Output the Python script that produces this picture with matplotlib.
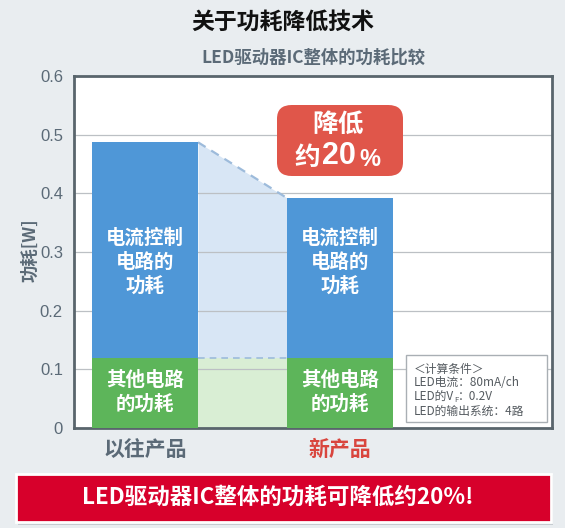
import matplotlib
matplotlib.use("Agg")
import matplotlib.pyplot as plt
from matplotlib.patches import Rectangle, FancyBboxPatch

plt.rcParams['font.family'] = ['Noto Sans CJK SC', 'DejaVu Sans']

# ---- data ----
categories = ["以往产品", "新产品"]
other_power = [0.12, 0.12]          # 其他电路的功耗
total_power = [0.487, 0.392]        # 整体功耗
yticks = [0, 0.1, 0.2, 0.3, 0.4, 0.5, 0.6]
ytick_labels = ["0", "0.1", "0.2", "0.3", "0.4", "0.5", "0.6"]
current_label = "电流控制\n电路的\n功耗"
other_label = "其他电路\n的功耗"
title = "关于功耗降低技术"
subtitle = "LED驱动器IC整体的功耗比较"
ylabel = "功耗[W]"
badge_line1 = "降低"
badge_line2a = "约"
badge_line2b = "20"
badge_line2c = "%"
banner = "LED驱动器IC整体的功耗可降低约20%!"
cond_lines = [["＜计算条件＞"], ["LED电流：80mA/ch"], ["LED的V", "F", "：0.2V"], ["LED的输出系统：4路"]]

BG = "#e9edf0"
BLUE = "#4f97d7"
GREEN = "#5db55a"
LBLUE = "#d8e6f5"
LGREEN = "#d9eed4"
GRAY = "#5b6a77"
SPINE = "#59656c"

fig = plt.figure(figsize=(5.65, 5.28), dpi=100, facecolor=BG)
ax = fig.add_axes([74/565, 1-428/528, 478/565, 352/528])
ax.set_facecolor("white")

x = [0, 1]
w = 0.544
ax.set_xlim(-0.364, 2.087)
ax.set_ylim(0, 0.6)

current_power = [t - o for t, o in zip(total_power, other_power)]
ax.bar(x, other_power, width=w, color=GREEN, zorder=3)
ax.bar(x, current_power, width=w, bottom=other_power, color=BLUE, zorder=3)

# connecting shaded region
xa, xb = x[0] + w/2, x[1] - w/2
ax.fill_between([xa, xb], [0, 0], other_power, color=LGREEN, zorder=0.5, lw=0)
ax.fill_between([xa, xb], other_power, total_power, color=LBLUE, zorder=0.5, lw=0)
ax.plot([xa, xb], total_power, ls=(0, (4, 3)), color="#9dbbdb", lw=1.6, zorder=2)
ax.plot([xa, xb], other_power, ls=(0, (4, 3)), color="#9dbbdb", lw=1.2, zorder=2)

# grid
for yv in yticks[1:-1]:
    ax.axhline(yv, color="#bcc0c4", lw=0.9, zorder=1)

ax.set_yticks(yticks)
ax.set_yticklabels(ytick_labels, family=['Liberation Sans', 'DejaVu Sans'], fontsize=12, color=GRAY)
ax.tick_params(axis='y', length=0, pad=8)
ax.set_xticks([])
for s in ax.spines.values():
    s.set_color(SPINE)
    s.set_linewidth(2.0)

# bar labels
for xi, o, t in zip(x, other_power, total_power):
    ax.text(xi, 0.283, current_label, ha='center', va='center', color='white',
            fontsize=14, fontweight='bold', linespacing=1.3, zorder=4)
    ax.text(xi, o / 2, other_label, ha='center', va='center', color='white',
            fontsize=14, fontweight='bold', linespacing=1.3, zorder=4)

# category labels
cat_colors = [GRAY, "#d9463e"]
for xi, c, col in zip(x, categories, cat_colors):
    ax.text(xi, -0.036, c, ha='center', va='center', color=col, fontsize=15,
            fontweight='bold', clip_on=False)

# y label
fig.text(30/565, 1-250/528, ylabel, rotation=90, ha='center', va='center',
         color=GRAY, fontsize=12.5, fontweight='bold')

# titles
fig.text(283/565, 1-22/528, title, ha='center', va='center', color="#111111",
         fontsize=16.5, fontweight='bold')
fig.text(313/565, 1-58/528, subtitle, ha='center', va='center', color=GRAY,
         fontsize=12.5, fontweight='bold')

# badge
badge = FancyBboxPatch((277/565, 1-176/528), 126/565, 71/528,
                       boxstyle="round,pad=0,rounding_size=0.026",
                       transform=fig.transFigure, facecolor="#e0564a",
                       edgecolor='none', zorder=5)
fig.patches.append(badge)
fig.text(338/565, 1-124/528, badge_line1, ha='center', va='center', color='white',
         fontsize=18.5, fontweight='bold', zorder=6)
fig.text(307/565, 1-157/528, badge_line2a, ha='center', va='center', color='white',
         fontsize=18.5, fontweight='bold', zorder=6)
fig.text(339/565, 1-156/528, badge_line2b, ha='center', va='center', color='white',
         fontsize=22, fontweight='bold', zorder=6, family=['Liberation Sans'])
fig.text(370/565, 1-159/528, badge_line2c, ha='center', va='center', color='white',
         fontsize=17, fontweight='bold', zorder=6, family=['Liberation Sans'])

# condition box
cbox = Rectangle((406/565, 1-422/528), 141/565, 67/528, transform=fig.transFigure,
                 facecolor='white', edgecolor="#a9afb4", lw=1.0, zorder=5)
fig.patches.append(cbox)
fig.canvas.draw()
renderer = fig.canvas.get_renderer()
for i, parts in enumerate(cond_lines):
    ypx = 528 - (369 + 14*i)
    xpx = 414
    for j, part in enumerate(parts):
        sub = (len(parts) == 3 and j == 1)
        t = fig.text(xpx/565, (ypx - (3 if sub else 0))/528, part, ha='left', va='center',
                     color="#555b60", fontsize=5.5 if sub else 8.5, zorder=6)
        bb = t.get_window_extent(renderer)
        xpx = bb.x1

# banner
shadow = Rectangle((18/565, 1-525/528), 535/565, 50/528, transform=fig.transFigure,
                   facecolor="#c5cbd0", edgecolor='none', zorder=1)
fig.patches.append(shadow)
ban = Rectangle((16/565, 1-522/528), 535/565, 48/528, transform=fig.transFigure,
                facecolor="#d7002b", edgecolor='white', lw=2, zorder=2)
fig.patches.append(ban)
fig.text(278/565, 1-497/528, banner, ha='center', va='center', color='white',
         fontsize=16.2, fontweight='bold', zorder=3)

fig.savefig("out.png", dpi=100, facecolor=BG)
